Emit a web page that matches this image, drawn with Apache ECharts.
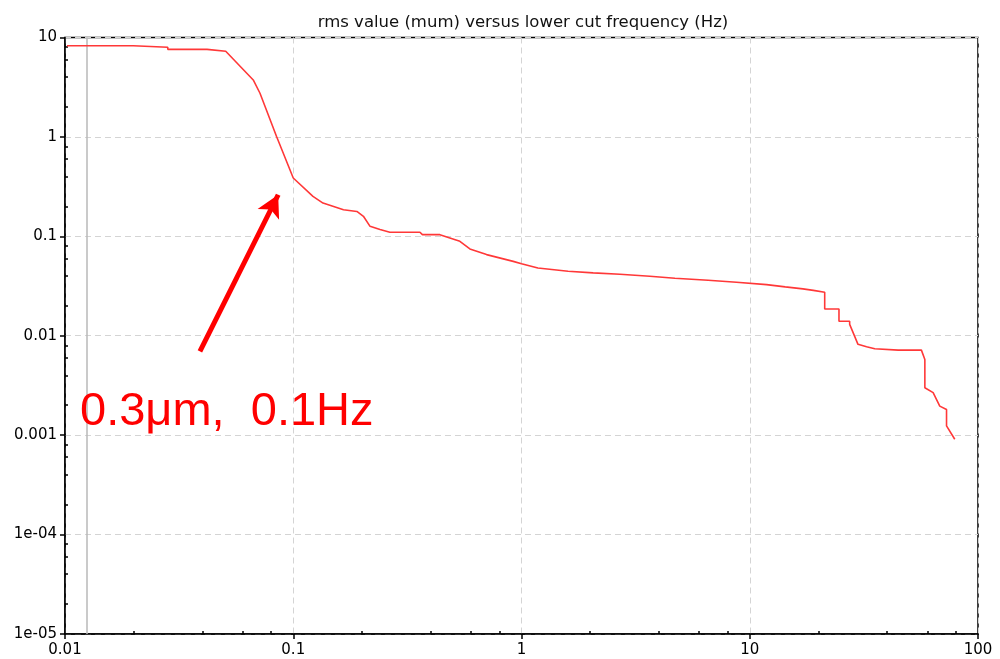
<!DOCTYPE html>
<html>
<head>
<meta charset="utf-8">
<script src="https://cdn.jsdelivr.net/npm/echarts@6/dist/echarts.min.js"></script>
<style>
html,body{margin:0;padding:0;background:#fff;}
#chart{width:1000px;height:659px;}
</style>
</head>
<body>
<div id="chart"></div>
<script>
// ---- data ----
const freq = [0.0102, 0.0199, 0.0199, 0.0282, 0.0282, 0.0419, 0.0419, 0.0506, 0.0668, 0.0715, 0.0845, 0.1,
  0.122, 0.135, 0.166, 0.19, 0.203, 0.217, 0.24, 0.265, 0.359, 0.368, 0.439, 0.537, 0.594, 0.703, 0.92, 1.0,
  1.18, 1.6, 2.06, 2.7, 3.65, 4.7, 6.57, 8.75, 11.85, 14.3, 17.1, 19.0, 21.3, 21.3, 24.6, 24.6, 27.4, 27.4,
  28.4, 29.8, 32.5, 35.3, 44.7, 56.5, 58.5, 58.5, 63.6, 68.0, 72.8, 72.8, 79.1];
const rms = [8.27, 8.27, 7.97, 7.97, 7.6, 7.6, 7.27, 7.27, 3.74, 2.75, 1.01, 0.386,
  0.252, 0.216, 0.185, 0.178, 0.159, 0.126, 0.117, 0.110, 0.110, 0.104, 0.104, 0.089, 0.0747, 0.0655, 0.056, 0.053,
  0.048, 0.0446, 0.0429, 0.0416, 0.0397, 0.0379, 0.0362, 0.0345, 0.0327, 0.031, 0.0296, 0.0286, 0.0274, 0.0186, 0.0186, 0.014, 0.014, 0.013,
  0.0107, 0.0082, 0.00776, 0.0074, 0.00717, 0.00717, 0.00578, 0.0030, 0.00268, 0.00196, 0.00181, 0.00124, 0.00091];

const xTickValues = [0.01, 0.1, 1, 10, 100];
const xTickLabels = ['0.01', '0.1', '1', '10', '100'];
const yTickValues = [0.00001, 0.0001, 0.001, 0.01, 0.1, 1, 10];
const yTickLabels = ['1e-05', '1e-04', '0.001', '0.01', '0.1', '1', '10'];
const minorMultipliers = [2, 4, 6, 8];

const titleText = 'rms value (mum) versus lower cut frequency (Hz)';
const annotationText = '0.3μm,  0.1Hz';
const markerFreq = 0.0125;               // grey vertical marker line
const arrowFrom = [0.039, 0.00695];      // arrow tail (freq, rms)
const arrowTo = [0.0859, 0.262];         // arrow head (freq, rms)

// ---- helpers ----
function minorTicks(decades) {
  const out = [];
  for (let i = 0; i < decades.length - 1; i++) {
    minorMultipliers.forEach(m => out.push(+(decades[i] * m).toPrecision(6)));
  }
  return out;
}
function labelFor(values, labels) {
  return function (v) {
    for (let i = 0; i < values.length; i++) {
      if (Math.abs(Math.log10(v) - Math.log10(values[i])) < 1e-6) return labels[i];
    }
    return '';
  };
}

const FONT = 'DejaVu Sans';
const seriesData = freq.map((f, i) => [f, rms[i]]);
const yMin = yTickValues[0], yMax = yTickValues[yTickValues.length - 1];

const chart = echarts.init(document.getElementById('chart'), null, {renderer: 'canvas'});

const gridLine = {show: true, lineStyle: {color: '#d4d4d4', type: [6, 4], width: 1}};

chart.setOption({
  animation: false,
  backgroundColor: '#ffffff',
  title: {
    text: titleText,
    left: 518,
    textAlign: 'center',
    top: 9,
    textStyle: {fontFamily: FONT, fontSize: 16.5, fontWeight: 'normal', color: '#111'}
  },
  grid: {
    left: 65, right: 22, top: 37.5, bottom: 25,
    show: true, borderColor: '#000', borderWidth: 1.5, backgroundColor: '#fff'
  },
  xAxis: [{
    type: 'log', logBase: 10, min: 0.01, max: 100,
    position: 'bottom',
    axisLine: {show: true, lineStyle: {color: '#000', width: 1.5}},
    axisTick: {show: true, inside: false, length: 5, customValues: xTickValues, lineStyle: {color: '#000', width: 1.5}},
    axisLabel: {show: true, customValues: xTickValues, formatter: labelFor(xTickValues, xTickLabels),
      fontFamily: FONT, fontSize: 15, color: '#000', margin: 9},
    splitLine: gridLine
  }, {
    type: 'log', logBase: 10, min: 0.01, max: 100,
    position: 'bottom', offset: 0,
    axisLine: {show: false},
    axisTick: {show: true, inside: true, length: 3, customValues: minorTicks(xTickValues), lineStyle: {color: '#000', width: 1.5}},
    axisLabel: {show: false},
    splitLine: {show: false}
  }],
  yAxis: [{
    type: 'log', logBase: 10, min: yMin, max: yMax,
    position: 'left',
    axisLine: {show: true, lineStyle: {color: '#000', width: 1.5}},
    axisTick: {show: true, inside: false, length: 5, customValues: yTickValues, lineStyle: {color: '#000', width: 1.5}},
    axisLabel: {show: true, customValues: yTickValues, formatter: labelFor(yTickValues, yTickLabels),
      fontFamily: FONT, fontSize: 15, color: '#000', margin: 8},
    splitLine: gridLine
  }, {
    type: 'log', logBase: 10, min: yMin, max: yMax,
    position: 'left', offset: 0,
    axisLine: {show: false},
    axisTick: {show: true, inside: true, length: 3, customValues: minorTicks(yTickValues), lineStyle: {color: '#000', width: 1.5}},
    axisLabel: {show: false},
    splitLine: {show: false}
  }],
  series: [{
    type: 'line',
    data: seriesData,
    xAxisIndex: 0, yAxisIndex: 0,
    showSymbol: false,
    symbol: 'none',
    lineStyle: {color: '#ff3838', width: 1.6},
    z: 5,
    markLine: {
      silent: true,
      symbol: ['none', 'none'],
      label: {show: false},
      lineStyle: {color: '#b8b8b8', type: 'solid', width: 1.5},
      data: [[{coord: [markerFreq, yMax]}, {coord: [markerFreq, yMin]}]]
    }
  }, {
    type: 'line',
    data: [],
    xAxisIndex: 0, yAxisIndex: 0,
    z: 10,
    markLine: {
      silent: true,
      symbol: ['none', 'arrow'],
      symbolSize: [18, 22],
      label: {show: false},
      lineStyle: {color: '#ff0000', type: 'solid', width: 5},
      data: [[{coord: arrowFrom}, {coord: arrowTo}]]
    }
  }],
  graphic: [{
    type: 'text',
    left: 80,
    top: 389,
    z: 100,
    style: {text: annotationText, fill: '#ff0000', font: '47px "Liberation Sans", Arial, sans-serif'}
  }]
});
</script>
</body>
</html>
